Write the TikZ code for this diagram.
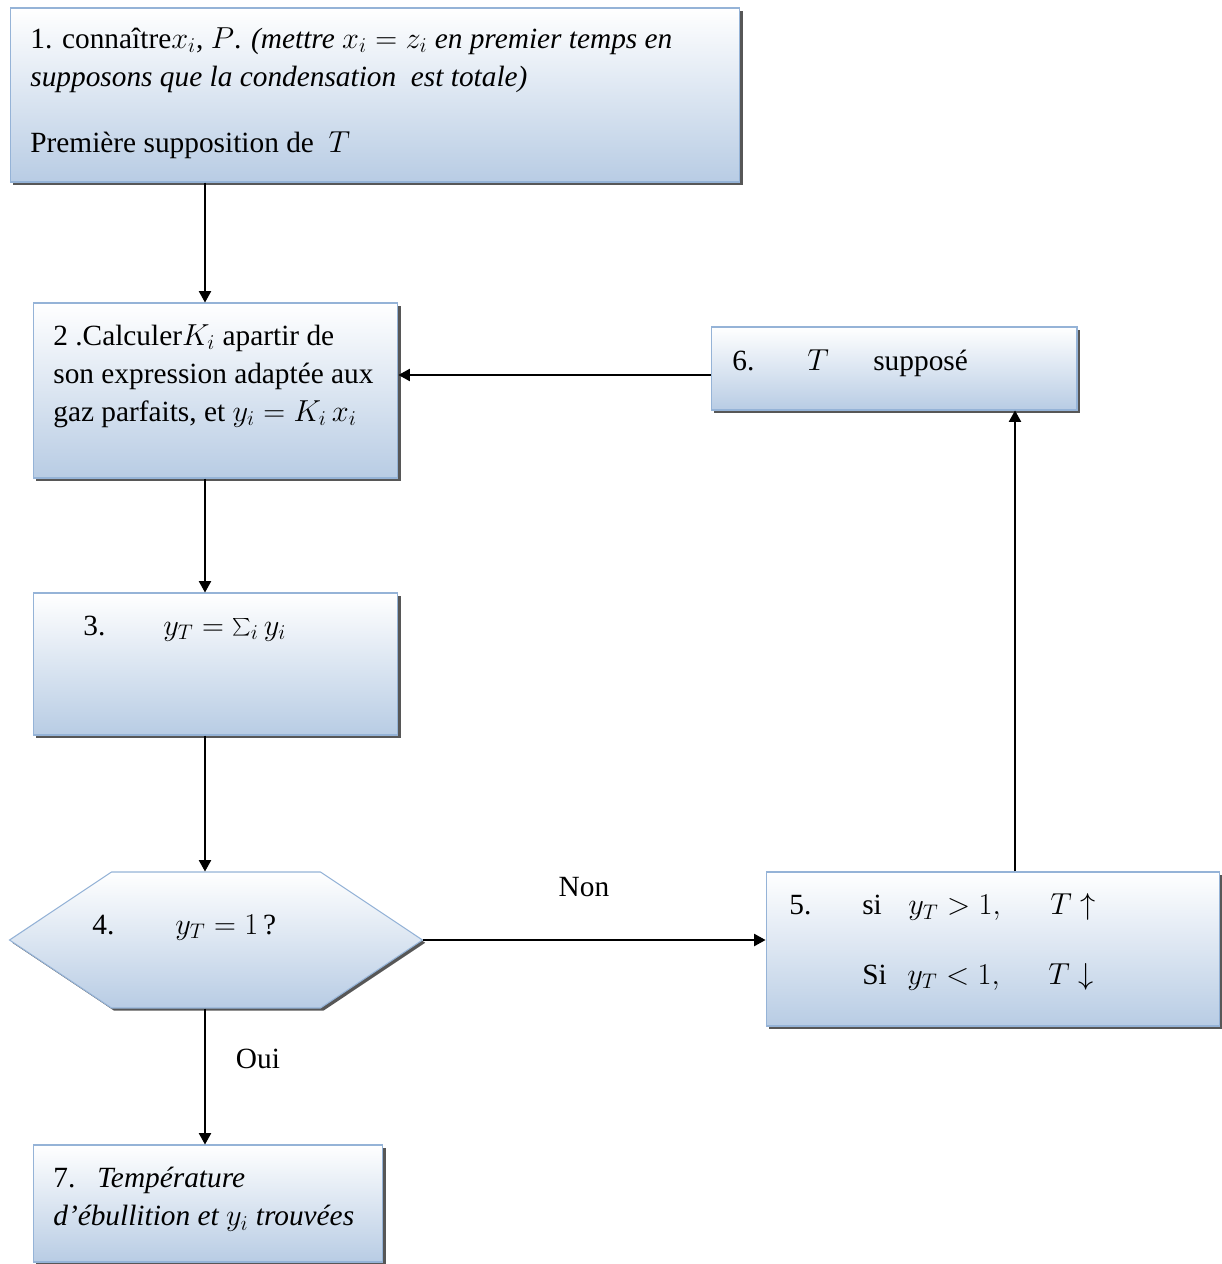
\documentclass[tikz,border=0pt]{standalone}
\usepackage{fontspec}
\setmainfont{LiberationSerif}[Extension=.ttf, UprightFont=*-Regular, ItalicFont=*-Italic, BoldFont=*-Bold, BoldItalicFont=*-BoldItalic]
\usepackage{tikz}
\usetikzlibrary{shapes.symbols, arrows.meta, positioning, shadows}
\definecolor{boxedge}{HTML}{95B3D7}
\definecolor{boxbottom}{HTML}{B8CCE4}
\definecolor{shadowgray}{HTML}{3A3A3A}

\begin{document}
\begin{tikzpicture}[
    x=0.02cm, y=-0.02cm,
    stepbox/.style={rectangle, draw=boxedge, line width=0.6pt, top color=white, bottom color=boxbottom, inner sep=0pt, drop shadow={shadow xshift=0.055cm, shadow yshift=-0.055cm, fill=shadowgray, opacity=0.85}},
    testbox/.style={signal, signal to=west and east, signal pointer angle=67.4, draw=boxedge, line width=0.6pt, top color=white, bottom color=boxbottom, inner sep=0pt, drop shadow={shadow xshift=0.055cm, shadow yshift=-0.055cm, fill=shadowgray, opacity=0.85}},
    txt/.style={anchor=north west, inner sep=0pt, align=left, font=\fontsize{16.7}{21.6}\selectfont},
    txtline/.style={txt, anchor=base west},
    link/.style={-{Triangle[length=6.5pt, width=7pt]}, line width=0.8pt}
]
\useasboundingbox (0,0) rectangle (1222,1264);

% boxes
\node[stepbox, minimum width=14.6cm, minimum height=3.48cm] (b1) at (375,95) {};
\node[stepbox, minimum width=7.3cm, minimum height=3.5cm] (b2) at (215.5,390.5) {};
\node[stepbox, minimum width=7.32cm, minimum height=1.66cm] (b6) at (894,368.5) {};
\node[stepbox, minimum width=7.3cm, minimum height=2.84cm] (b3) at (215.5,664) {};
\node[testbox, minimum width=8.26cm, minimum height=2.72cm] (b4) at (216,940) {};
\node[stepbox, minimum width=9.08cm, minimum height=3.08cm] (b5) at (993,949) {};
\node[stepbox, minimum width=7.0cm, minimum height=2.34cm] (b7) at (208,1203.5) {};

% texts
\node[txt] (t1) at (30,27) {1. connaître$x_i$, $P$. \textit{(mettre $x_i = z_i$ en premier temps en}\\
  \textit{supposons que la condensation\ \ est totale)}\\[0.58cm]
  Première supposition de\ \ $T$};
\node[txt] (t2) at (53,324) {2 .Calculer$K_i$ apartir de\\son expression adaptée aux\\gaz parfaits, et $y_i = K_i\,x_i$};
\node[txtline] (t6) at (732,370) {\makebox[1.5cm][l]{6.}\makebox[1.32cm][l]{$T$}supposé};
\node[txtline] (t3) at (83,635) {\makebox[1.6cm][l]{3.}$y_T = \sum_i y_i$};
\node[txtline] (t4) at (92,934) {\makebox[1.66cm][l]{4.}$y_T = 1$\,?};
\node[txt] (t5) at (789,893) {\makebox[1.46cm][l]{5.}\makebox[0.92cm][l]{si}\makebox[2.84cm][l]{$y_T > 1,$}$T\uparrow$\\[0.64cm]
  \makebox[1.46cm][l]{}\makebox[0.9cm][l]{Si}\makebox[2.82cm][l]{$y_T < 1,$}$T\downarrow$};
\node[txt] (t7) at (53,1167) {\makebox[0.88cm][l]{7.}\textit{Température}\\\textit{d’ébullition et $y_i$ trouvées}};

% connectors
\coordinate (spine) at (205,0);
\coordinate (riser) at (1015,0);
\coordinate (back) at (0,375);
\draw[link] (b1.south -| spine) -- (b2.north -| spine);
\draw[link] (b2.south -| spine) -- (b3.north -| spine);
\draw[link] (b3.south -| spine) -- (b4.north -| spine);
\draw[link] (b4.south -| spine) -- (b7.north -| spine);
\draw[link] (b4.east) -- (b4.east -| b5.west);
\draw[link] (b5.north -| riser) -- (b6.south -| riser);
\draw[link] (b6.west |- back) -- (b2.east |- back);

\node[txtline, anchor=base] (non) at (584,896) {Non};
\node[txtline, anchor=base] (oui) at (258,1068) {Oui};
\end{tikzpicture}
\end{document}
